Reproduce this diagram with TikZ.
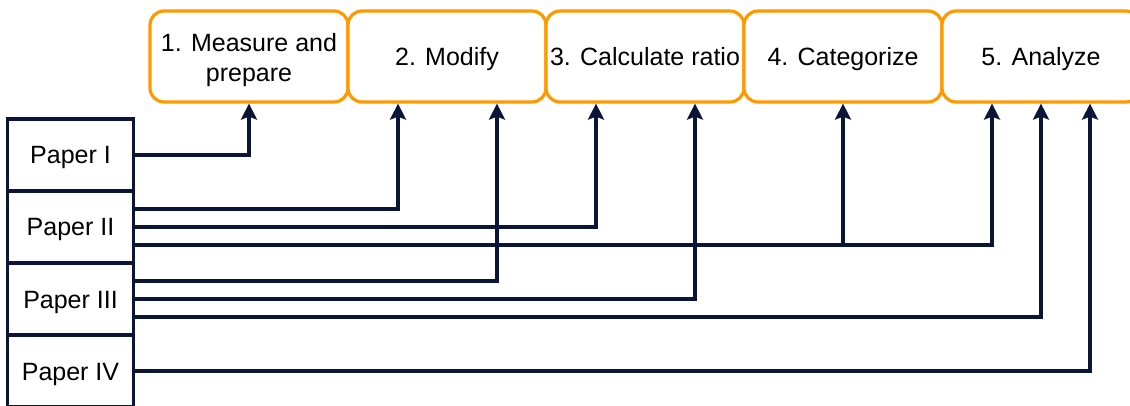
\documentclass[tikz,border=0pt]{standalone}
\usepackage{fontspec}
\setmainfont{Liberation Sans}
\usetikzlibrary{arrows.meta}
\definecolor{navy}{RGB}{10,21,56}
\definecolor{stepor}{RGB}{255,153,0}
\begin{document}
\begin{tikzpicture}[x=1pt,y=-1pt,
  stepbox/.style={draw=stepor,line width=3.2pt,rounded corners=14pt,fill=white,
    minimum width=198pt,minimum height=91pt,inner sep=2pt,align=center,
    text height=20pt,text depth=2pt,
    font=\fontsize{25}{30}\selectfont},
  paperbox/.style={draw=navy,line width=3.2pt,fill=white,
    minimum width=126pt,minimum height=72pt,inner sep=2pt,
    text height=20pt,text depth=2pt,
    font=\fontsize{25}{30}\selectfont},
  link/.style={draw=navy,line width=3.2pt,
    -{Stealth[length=16pt,width=16pt,inset=3pt]}}]
\useasboundingbox (0,0) rectangle (1130,406);
\clip (0,0) rectangle (1130,406);

% process steps
\node[stepbox,text height=50pt,text depth=0pt] (m1) at (249,56.5) {1. Measure and\\prepare};
\node[stepbox] (m2) at (447,56.5) {2. Modify};
\node[stepbox] (m3) at (645,56.5) {3. Calculate ratio};
\node[stepbox] (m4) at (843,56.5) {4. Categorize};
\node[stepbox] (m5) at (1041,56.5) {5. Analyze};

% papers
\node[paperbox] (p1) at (70.5,155) {Paper I};
\node[paperbox] (p2) at (70.5,227) {Paper II};
\node[paperbox] (p3) at (70.5,299) {Paper III};
\node[paperbox] (p4) at (70.5,371) {Paper IV};

% line start points on the right side of the papers
\coordinate (p2a) at ([yshift=18pt]p2.east);
\coordinate (p2c) at ([yshift=-18pt]p2.east);
\coordinate (p3a) at ([yshift=18pt]p3.east);
\coordinate (p3c) at ([yshift=-18pt]p3.east);

% which paper feeds which step
\draw[link] (p1.east) -| (m1.south);
\draw[link] (p2a) -| ([xshift=-49pt]m2.south);
\draw[link] (p2.east) -| ([xshift=-49pt]m3.south);
\draw[link] (p2c) -| ([xshift=-49pt]m5.south);
\draw[link] (m4.south |- p2c) -- (m4.south);
\draw[link] (p3a) -| ([xshift=50pt]m2.south);
\draw[link] (p3.east) -| ([xshift=50pt]m3.south);
\draw[link] (p3c) -| (m5.south);
\draw[link] (p4.east) -| ([xshift=49pt]m5.south);
\end{tikzpicture}
\end{document}
